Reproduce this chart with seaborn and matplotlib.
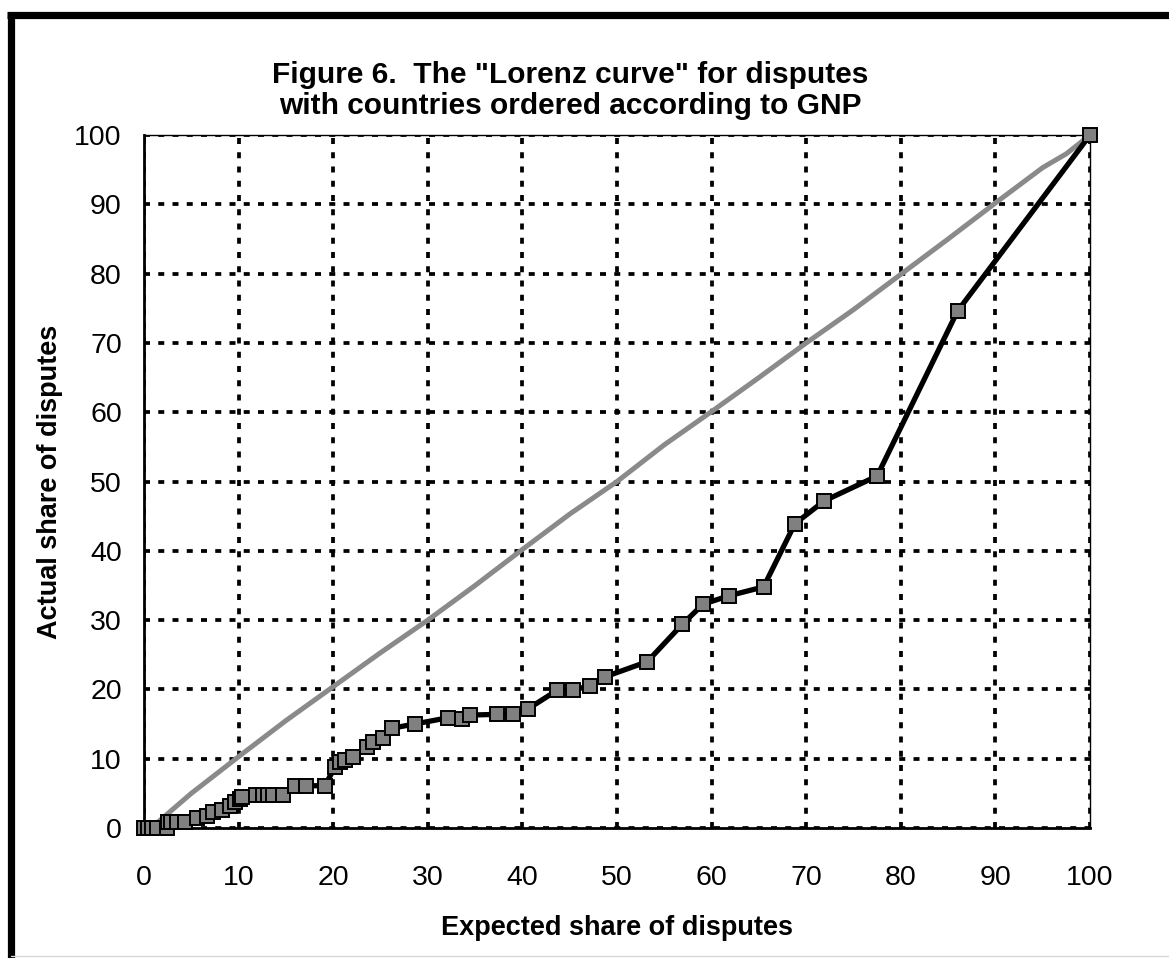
import matplotlib
matplotlib.use("Agg")
import matplotlib.pyplot as plt
from matplotlib.lines import Line2D
import seaborn as sns
import pandas as pd

# Actual share (countries ordered by GNP)
actual_x = [0.0, 0.4, 0.85, 1.4, 2.4, 2.5, 2.9, 3.5, 4.3, 5.6, 6.7, 7.3, 8.2, 9.1, 9.6,
            10.1, 10.4, 11.8, 12.6, 13.1, 13.6, 14.7, 16.0, 17.1, 19.1, 20.2, 20.7,
            21.2, 22.1, 23.6, 24.2, 25.3, 26.2, 28.6, 32.1, 33.6, 34.5, 37.3, 39.0,
            40.6, 43.7, 45.3, 47.1, 48.7, 53.2, 56.9, 59.1, 61.8, 65.5, 68.8, 71.9,
            77.5, 86.0, 100.0]
actual_y = [0.0, 0.0, 0.0, 0.0, 0.0, 0.9, 0.9, 0.9, 0.9, 1.4, 1.7, 2.3, 2.6, 3.2, 3.8,
            4.2, 4.5, 4.8, 4.8, 4.8, 4.8, 4.8, 6.1, 6.1, 6.1, 8.8, 9.5,
            9.8, 10.3, 11.7, 12.4, 13.0, 14.4, 15.0, 15.9, 15.8, 16.3, 16.4, 16.4,
            17.2, 19.9, 19.9, 20.5, 21.8, 24.0, 29.4, 32.3, 33.5, 34.8, 43.9, 47.2,
            50.8, 74.6, 100.0]

# Reference (equality) line
equal_x = [1.0, 5, 10, 15, 20, 25, 30, 35, 40, 45, 50, 55, 60, 65, 70, 75, 80, 85, 90, 95, 97.5, 100]
equal_y = [0.3, 5.0, 10.3, 15.5, 20.4, 25.3, 30.0, 35.0, 40.2, 45.3, 50.0, 55.3, 60.1,
           65.0, 70.0, 74.8, 79.9, 85.0, 90.2, 95.3, 97.3, 100.0]

x_ticks = list(range(0, 101, 10))
y_ticks = list(range(0, 101, 10))

title_text = 'Figure 6.  The "Lorenz curve" for disputes\nwith countries ordered according to GNP'
x_label = "Expected share of disputes"
y_label = "Actual share of disputes"

sns.set_style("white")
plt.rcParams['font.family'] = ['Liberation Sans', 'DejaVu Sans']
plt.rcParams['text.color'] = 'black'
plt.rcParams['axes.labelcolor'] = 'black'
plt.rcParams['xtick.color'] = 'black'
plt.rcParams['ytick.color'] = 'black'

fig = plt.figure(figsize=(11.69, 9.58), dpi=100)
ax = fig.add_axes([0.1232, 0.1357, 0.8092, 0.7233])

df_eq = pd.DataFrame({"x": equal_x, "y": equal_y})
df_act = pd.DataFrame({"x": actual_x, "y": actual_y})

sns.lineplot(data=df_eq, x="x", y="y", ax=ax, color="#8a8a8a", linewidth=3.6,
             sort=False, zorder=3)
sns.lineplot(data=df_act, x="x", y="y", ax=ax, color="black", linewidth=3.8,
             sort=False, marker="s", markersize=10, markerfacecolor="#808080",
             markeredgecolor="black", markeredgewidth=1.4, zorder=4, clip_on=False)

ax.set_xlim(0, 100)
ax.set_ylim(0, 100)
ax.set_xticks(x_ticks)
ax.set_yticks(y_ticks)
ax.set_xticklabels([str(t) for t in x_ticks])
ax.set_yticklabels([str(t) for t in y_ticks])
ax.tick_params(axis="both", direction="out", length=7, width=1.6, colors="black",
               labelcolor="black", labelsize=20.5)
ax.tick_params(axis="x", pad=20)
ax.tick_params(axis="y", pad=9)

ax.grid(True, color="black", linestyle=(0, (1.6, 2.2)), linewidth=2.7)
ax.set_axisbelow(True)

for s in ["left", "bottom"]:
    ax.spines[s].set_linewidth(2.0)
    ax.spines[s].set_color("black")
for s in ["top", "right"]:
    ax.spines[s].set_linewidth(1.0)
    ax.spines[s].set_color("black")

ax.set_xlabel(x_label, fontsize=19.5, fontweight="bold", labelpad=17, color="black")
ax.set_ylabel(y_label, fontsize=19.5, fontweight="bold", labelpad=8, color="black")

fig.text(0.488, 0.936, title_text, ha="center", va="top", fontsize=21.5,
         fontweight="bold", linespacing=1.1, color="black")

# chart-area frame
fig.add_artist(Line2D([0.009, 0.009], [0.0, 0.984], transform=fig.transFigure,
                      color="black", linewidth=5.2, solid_capstyle="butt"))
fig.add_artist(Line2D([0.006, 1.0], [0.984, 0.984], transform=fig.transFigure,
                      color="black", linewidth=5.2, solid_capstyle="butt"))
fig.add_artist(Line2D([0.009, 1.0], [0.002, 0.002], transform=fig.transFigure,
                      color="#d8d8d8", linewidth=1.0))

fig.savefig("out.png", dpi=100)
